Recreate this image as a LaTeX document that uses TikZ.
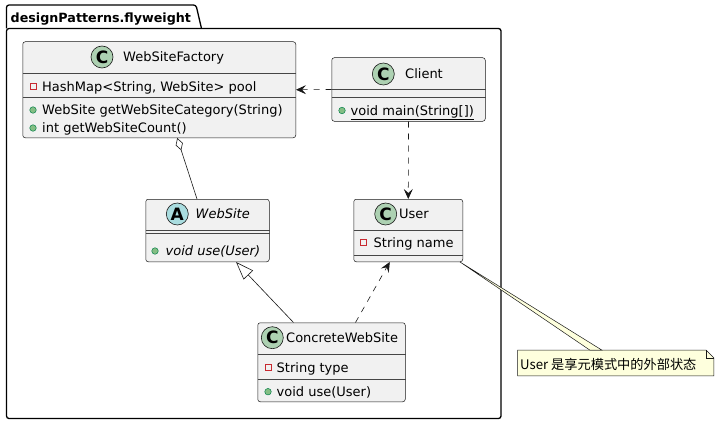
\documentclass[tikz,border=0pt]{standalone}
\usepackage{fontspec}
\setmainfont{DejaVu Sans}
\newfontfamily\cjkfont{Noto Sans CJK SC}
\usetikzlibrary{arrows.meta}
\definecolor{boxfill}{HTML}{F1F1F1}
\definecolor{boxline}{HTML}{181818}
\definecolor{spotC}{HTML}{ADD1B2}
\definecolor{spotA}{HTML}{A9DCDF}
\definecolor{notefill}{HTML}{FEFFDD}
\definecolor{privred}{HTML}{C82930}
\definecolor{pubfill}{HTML}{84BE84}
\definecolor{publine}{HTML}{038048}

\tikzset{
  classbox/.style={draw=boxline, fill=boxfill, line width=0.5pt, rounded corners=2.5pt, anchor=north west, inner sep=0pt},
  sepline/.style={draw=boxline!80, line width=0.5pt},
  spot/.style={circle, draw=boxline, line width=0.6pt, minimum size=22pt, inner sep=0pt, font=\fontsize{17}{17}\selectfont\bfseries},
  txt/.style={anchor=west, inner sep=0pt, text height=9.5pt, text depth=0pt, font=\fontsize{13}{15}\selectfont},
  privmark/.style={draw=privred, line width=0.6pt, minimum size=6pt, inner sep=0pt},
  pubmark/.style={circle, draw=publine, fill=pubfill, line width=0.5pt, minimum size=6.5pt, inner sep=0pt},
  dep/.style={draw=boxline, line width=0.6pt, dash pattern=on 6pt off 6pt, -{Stealth[length=10pt,width=9pt,inset=4pt]}},
  link/.style={draw=boxline, line width=0.6pt},
}

\begin{document}
\begin{tikzpicture}[x=1pt,y=-1pt]
  \useasboundingbox (0,0) rectangle (719,425);
  % package
  \draw[line width=1.3pt, rounded corners=2.5pt] (6.5,28.5) -- (6.5,5) -- (196,5) -- (201.5,28.5);
  \draw[line width=1.3pt, rounded corners=2.5pt] (6.5,28.5) rectangle (501,418.5);
  \node[txt, font=\fontsize{12.7}{15}\selectfont\bfseries] (pkg) at (10.5,18) {designPatterns.flyweight};

  % WebSiteFactory
  \node[classbox, minimum width=273pt, minimum height=96pt] (factory) at (22.5,41.5) {};
  \draw[sepline] (factory.west |- 0,73) -- (factory.east |- 0,73);
  \draw[sepline] (factory.west |- 0,97.5) -- (factory.east |- 0,97.5);
  \node[spot, fill=spotC] (factoryC) at (102,57) {C};
  \node[txt] (factoryN) at (123,57) {WebSiteFactory};
  \node[privmark] (factoryP1) at (33,86.5) {};
  \node[txt] (factoryT1) at (42,86.5) {HashMap<String, WebSite> pool};
  \node[pubmark] (factoryP2) at (33,110) {};
  \node[txt] (factoryT2) at (42,110) {WebSite getWebSiteCategory(String)};
  \node[pubmark] (factoryP3) at (33,128) {};
  \node[txt] (factoryT3) at (42,128) {int getWebSiteCount()};

  % Client
  \node[classbox, minimum width=153.5pt, minimum height=63.5pt] (client) at (331.5,57.5) {};
  \draw[sepline] (client.west |- 0,89) -- (client.east |- 0,89);
  \draw[sepline] (client.west |- 0,97) -- (client.east |- 0,97);
  \node[spot, fill=spotC] (clientC) at (383.3,74) {C};
  \node[txt] (clientN) at (405,74) {Client};
  \node[pubmark] (clientP1) at (342,110.5) {};
  \node[txt] (clientT1) at (350.5,110.5) {\underline{void main(String[])}};

  % WebSite
  \node[classbox, minimum width=123.5pt, minimum height=62.5pt] (website) at (145.5,199) {};
  \draw[sepline] (website.west |- 0,230.5) -- (website.east |- 0,230.5);
  \draw[sepline] (website.west |- 0,233.5) -- (website.east |- 0,233.5);
  \node[spot, fill=spotA] (websiteA) at (177.3,214) {A};
  \node[txt] (websiteN) at (195.5,214) {\itshape WebSite};
  \node[pubmark] (websiteP1) at (155,251) {};
  \node[txt] (websiteT1) at (165.5,251) {\itshape void use(User)};

  % User
  \node[classbox, minimum width=109pt, minimum height=62.5pt] (user) at (353.5,199) {};
  \draw[sepline] (user.west |- 0,230.5) -- (user.east |- 0,230.5);
  \draw[sepline] (user.west |- 0,255) -- (user.east |- 0,255);
  \node[spot, fill=spotC] (userC) at (385.7,214) {C};
  \node[txt] (userN) at (399,214) {User};
  \node[privmark] (userP1) at (363.3,242.7) {};
  \node[txt] (userT1) at (373.5,242.7) {String name};

  % ConcreteWebSite
  \node[classbox, minimum width=147.5pt, minimum height=79pt] (concrete) at (257.5,322.5) {};
  \draw[sepline] (concrete.west |- 0,354.5) -- (concrete.east |- 0,354.5);
  \draw[sepline] (concrete.west |- 0,379) -- (concrete.east |- 0,379);
  \node[spot, fill=spotC] (concreteC) at (272.3,337.7) {C};
  \node[txt] (concreteN) at (286,337.7) {ConcreteWebSite};
  \node[privmark] (concreteP1) at (268,367.3) {};
  \node[txt] (concreteT1) at (276.5,367.3) {String type};
  \node[pubmark] (concreteP2) at (268,391.7) {};
  \node[txt] (concreteT2) at (276.5,391.7) {void use(User)};

  % note
  \node[anchor=north west, inner sep=0pt, minimum width=196pt, minimum height=25.5pt] (note) at (517.5,350) {};
  \draw[boxline, fill=notefill, line width=0.5pt] (note.north west) -- ([xshift=-8pt]note.north east) -- ([yshift=-8pt]note.north east) -- (note.south east) -- (note.south west) -- cycle;
  \draw[boxline, line width=0.5pt] ([xshift=-8pt]note.north east) -- ([xshift=-8pt,yshift=-8pt]note.north east) -- ([yshift=-8pt]note.north east);
  \node[txt, font=\fontsize{13.2}{15}\cjkfont] (noteT) at (520,364.5) {User 是享元模式中的外部状态};
  \draw[boxline, fill=notefill, line width=0.5pt] ([xshift=-3pt]user.south east) -- ([xshift=-26pt]note.north) -- ([xshift=-14pt]note.north) -- cycle;

  % connectors
  \draw[dep] (client.west) -- (factory.east);
  \draw[dep] (client.south) -- (user.north);
  \draw[link, {Diamond[open, length=13pt, width=7.5pt, fill=white]}-] ([xshift=18pt]factory.south) -- ([xshift=-10.5pt]website.north);
  \draw[link, -{Triangle[open, length=18pt, width=13pt, fill=white]}] ([xshift=-38pt]concrete.north) -- ([xshift=28.5pt]website.south);
  \draw[dep] ([xshift=24pt]concrete.north) -- ([xshift=-18.5pt]user.south);
\end{tikzpicture}
\end{document}
